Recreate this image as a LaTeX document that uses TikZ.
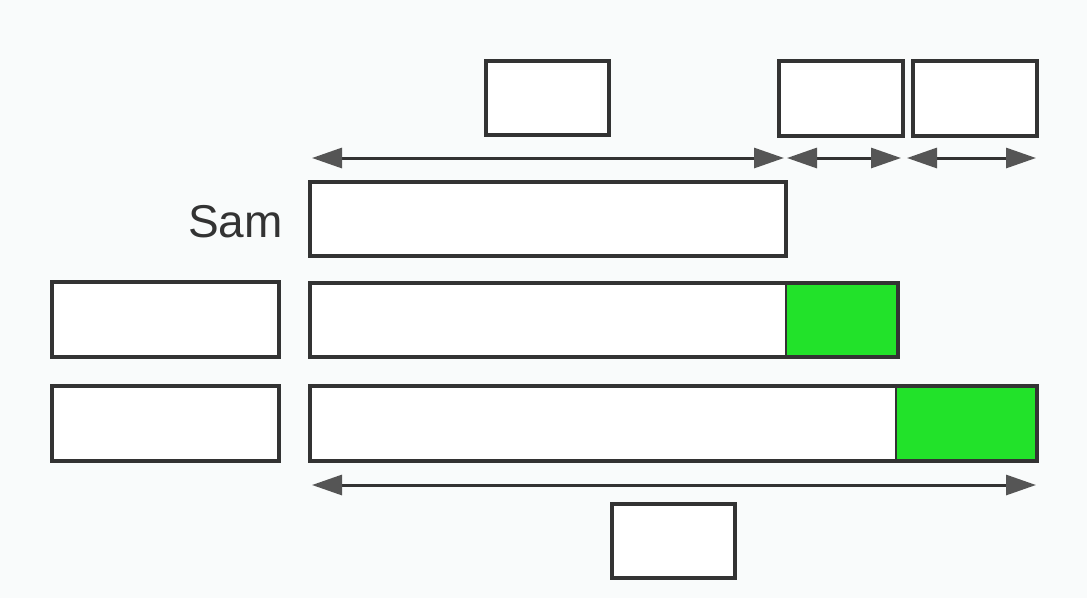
\documentclass[tikz,border=0pt]{standalone}
\usepackage{fontspec}
\setmainfont{Liberation Sans}
\usetikzlibrary{arrows.meta}
\definecolor{bg}{HTML}{F9FBFB}
\definecolor{ink}{HTML}{333333}
\definecolor{tipc}{HTML}{555555}
\definecolor{barg}{HTML}{22E22A}
\begin{document}
\begin{tikzpicture}[x=1pt,y=-1pt,
  box/.style={draw=ink,line width=3.2pt,fill=white,rectangle},
  gbox/.style={draw=ink,line width=3.2pt,fill=barg},
  dim/.style={draw=ink,line width=3pt,{Triangle[length=30pt,width=20pt,fill=tipc,color=tipc]}-{Triangle[length=30pt,width=20pt,fill=tipc,color=tipc]}}]
\fill[bg] (0,0) rectangle (1087,598);
\useasboundingbox (0,0) rectangle (1087,598);
% top label boxes
\draw[box] (486,61) rectangle (609,135);
\draw[box] (779,61) rectangle (903,136);
\draw[box] (913,61) rectangle (1037,136);
% top arrows
\coordinate (a1) at (312,158); \coordinate (a2) at (784,158);
\coordinate (b1) at (787,158); \coordinate (b2) at (901,158);
\coordinate (c1) at (907,158); \coordinate (c2) at (1036,158);
\draw[dim] (a1) -- (a2);
\draw[dim] (b1) -- (b2);
\draw[dim] (c1) -- (c2);
% Sam row
\node[anchor=east,font=\fontsize{46}{50}\selectfont,text=ink,inner sep=0pt] (sam) at (283,222) {Sam};
\draw[box] (310,182) rectangle (786,256);
% row 2
\draw[box] (52,282) rectangle (279,357);
\fill[white] (310,283) rectangle (786,357);
\fill[barg] (786,283) rectangle (898,357);
\draw[box,fill=none] (310,283) rectangle (898,357);
\draw[ink,line width=2pt] (786,283) -- (786,357);
% row 3
\draw[box] (52,386) rectangle (279,461);
\fill[white] (310,386) rectangle (896,461);
\fill[barg] (896,386) rectangle (1037,461);
\draw[box,fill=none] (310,386) rectangle (1037,461);
\draw[ink,line width=2pt] (896,386) -- (896,461);
% bottom arrow and box
\coordinate (d1) at (312,485); \coordinate (d2) at (1036,485);
\draw[dim] (d1) -- (d2);
\draw[box] (612,504) rectangle (735,578);
\end{tikzpicture}
\end{document}
